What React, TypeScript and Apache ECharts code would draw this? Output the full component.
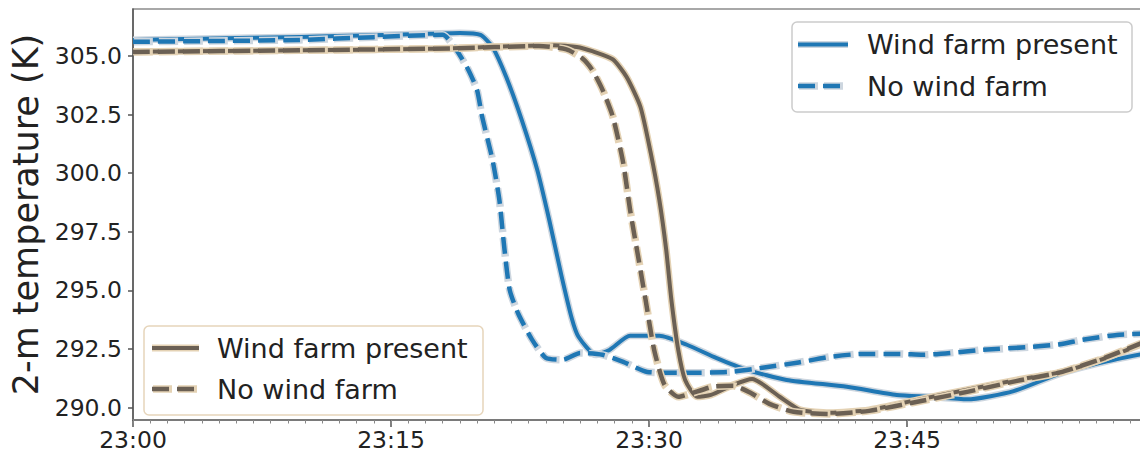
import React, { useEffect, useRef } from "react";
import * as echarts from "echarts";

// minutes after 23:00
const majorMinuteTicks = [0, 15, 30, 45];
const minorMinuteTicks = [
  0, 1, 2, 3, 4, 5, 6, 7, 8, 9, 10, 11, 12, 13, 14, 15, 16, 17, 18, 19, 20,
  21, 22, 23, 24, 25, 26, 27, 28, 29, 30, 31, 32, 33, 34, 35, 36, 37, 38, 39,
  40, 41, 42, 43, 44, 45, 46, 47, 48, 49, 50, 51, 52, 53, 54, 55, 56, 57, 58,
];
const temperatureTicks = [290, 292.5, 295, 297.5, 300, 302.5, 305];

const legendLabels = ["Wind farm present", "No wind farm"];

// Blue case: [minute, T (K)]
const blueWindFarm: [number, number][] = [
  [0, 305.68], [4, 305.73], [9.7, 305.81], [14, 305.88], [17.2, 305.94],
  [19.0, 305.98], [20.2, 305.9], [20.9, 305.38], [21.7, 304.1], [22.6, 302.27],
  [23.5, 300.14], [24.2, 298.0], [24.9, 295.66], [25.5, 293.83], [25.9, 293.02],
  [26.9, 292.25], [27.7, 292.46], [28.9, 293.06], [30.6, 293.06], [32.2, 292.68],
  [33.9, 292.12], [35.7, 291.61], [38.0, 291.18], [41.5, 290.89], [44.4, 290.54],
  [46.3, 290.46], [48.5, 290.35], [51.2, 290.7], [53.9, 291.45], [56.5, 291.95],
  [58.8, 292.3],
];
const blueNoWindFarm: [number, number][] = [
  [0, 305.6], [4, 305.63], [9.7, 305.68], [14, 305.8], [18.0, 305.9],
  [18.8, 305.26], [19.5, 304.4], [20.0, 303.55], [20.3, 302.4], [20.9, 300.57],
  [21.3, 298.86], [21.6, 296.73], [21.9, 295.02], [22.4, 294.0], [23.2, 292.9],
  [24.0, 292.12], [25.0, 292.04], [26.0, 292.33], [27.3, 292.25], [28.5, 291.95],
  [29.9, 291.52], [31.8, 291.48], [34.7, 291.52], [36.6, 291.7], [38.6, 291.91],
  [40.5, 292.16], [42.4, 292.29], [44.6, 292.29], [45.9, 292.25], [49.4, 292.46],
  [52.3, 292.59], [53.9, 292.7], [55.2, 292.89], [57.2, 293.1], [58.8, 293.15],
];

// Brown case
const brownWindFarm: [number, number][] = [
  [0, 305.18], [9.7, 305.24], [17.3, 305.3], [24.4, 305.45], [25.8, 305.38],
  [26.7, 305.2], [27.9, 304.85], [28.7, 304.1], [29.5, 302.83], [30.1, 300.86],
  [30.6, 298.86], [31.0, 296.73], [31.3, 294.6], [31.7, 292.46], [32.1, 291.18],
  [32.8, 290.46], [33.6, 290.54], [34.9, 290.97], [36.0, 291.22], [37.6, 290.46],
  [38.8, 289.9], [40.5, 289.78], [42.8, 289.9], [45.6, 290.33], [48.5, 290.76],
  [51.4, 291.18], [53.9, 291.5], [56.5, 292.1], [58.8, 292.75],
];
const brownNoWindFarm: [number, number][] = [
  [0, 305.17], [9.7, 305.24], [18.4, 305.32], [23.6, 305.42], [25.2, 305.28],
  [26.1, 304.91], [26.7, 304.4], [27.3, 303.55], [27.9, 302.4], [28.5, 300.44],
  [28.9, 298.43], [29.3, 296.73], [29.8, 294.6], [30.3, 292.46], [30.9, 290.97],
  [31.7, 290.46], [32.4, 290.59], [33.7, 290.89], [34.9, 290.93], [35.9, 290.63],
  [37.0, 290.16], [38.4, 289.82], [40.5, 289.73], [42.8, 289.86], [45.6, 290.25],
  [48.5, 290.67], [51.4, 291.14], [53.9, 291.5], [56.5, 292.12], [58.8, 292.8],
];

const BLUE = "#1f77b4";
const BLUE_HALO = "#cdd6df";
const BROWN = "#6b6054";
const BROWN_HALO = "#e4d2b4";
const FONT = "DejaVu Sans";

const GRID_LEFT = 133;
const GRID_TOP = 9;
const GRID_BOTTOM = 37;
const GRID_RIGHT = -3;
const PX_PER_MIN = 17.2;
const X_MAX = (1140 - GRID_LEFT - GRID_RIGHT) / PX_PER_MIN;
const Y_MAX = 307.0;
const Y_MIN = 289.47;

function lineSeries(
  name: string,
  data: [number, number][],
  color: string,
  halo: string,
  width: number,
  dashed: boolean
) {
  const base = {
    type: "line",
    name,
    data,
    showSymbol: false,
    symbol: "none",
    smooth: 0.2,
    silent: true,
    clip: true,
  };
  return [
    {
      ...base,
      lineStyle: {
        color: halo,
        width: width + 3,
        type: dashed ? [19, 6] : "solid",
        dashOffset: dashed ? -1 : 0,
        cap: "butt",
        join: "round",
      },
    },
    {
      ...base,
      lineStyle: {
        color,
        width,
        type: dashed ? [17, 8] : "solid",
        cap: "butt",
        join: "round",
      },
    },
  ];
}

function legendGraphic(
  x: number,
  y: number,
  w: number,
  h: number,
  border: string,
  color: string,
  halo: string,
  lineX1: number,
  lineX2: number,
  textX: number,
  rowY: number[],
  widths: number[]
) {
  const children: any[] = [
    {
      type: "rect",
      shape: { x, y, width: w, height: h, r: 5 },
      style: { fill: "rgba(255,255,255,0.9)", stroke: border, lineWidth: 1.5 },
    },
  ];
  legendLabels.forEach((label, i) => {
    const dashed = i === 1;
    children.push({
      type: "line",
      shape: { x1: lineX1, y1: rowY[i], x2: lineX2, y2: rowY[i] },
      style: {
        stroke: halo,
        lineWidth: widths[i] + 3,
        lineDash: dashed ? [19, 6] : null,
        lineDashOffset: dashed ? -1 : 0,
      },
    });
    children.push({
      type: "line",
      shape: { x1: lineX1, y1: rowY[i], x2: lineX2, y2: rowY[i] },
      style: {
        stroke: color,
        lineWidth: widths[i],
        lineDash: dashed ? [17, 8] : null,
      },
    });
    children.push({
      type: "text",
      x: textX,
      y: rowY[i],
      style: {
        text: label,
        fill: "#222",
        font: `27px "${FONT}"`,
        verticalAlign: "middle",
        align: "left",
      },
    });
  });
  return { type: "group", children };
}

export default function App() {
  const ref = useRef<HTMLDivElement>(null);
  useEffect(() => {
    if (!ref.current) return;
    const chart = echarts.init(ref.current, undefined, { renderer: "svg" });
    const pad = (v: number) => (v < 10 ? "0" + v : "" + v);
    chart.setOption({
      animation: false,
      backgroundColor: "#fff",
      textStyle: { fontFamily: FONT },
      grid: {
        left: GRID_LEFT,
        top: GRID_TOP,
        bottom: GRID_BOTTOM,
        right: GRID_RIGHT,
        containLabel: false,
        outerBoundsMode: "none",
        show: true,
        borderColor: "#8c8c8c",
        borderWidth: 1.5,
        backgroundColor: "#fff",
      },
      xAxis: [
        {
          type: "value",
          min: 0,
          max: X_MAX,
          axisLine: { show: true, lineStyle: { color: "#7a7a7a", width: 2 } },
          axisTick: {
            show: true,
            customValues: majorMinuteTicks,
            length: 7,
            lineStyle: { color: "#555", width: 1.5 },
          },
          axisLabel: {
            customValues: majorMinuteTicks,
            formatter: (v: number) => `23:${pad(Math.round(v))}`,
            fontSize: 23.5,
            color: "#222",
            fontFamily: FONT,
            margin: 8,
          },
          splitLine: { show: false },
        },
        {
          type: "value",
          min: 0,
          max: X_MAX,
          position: "bottom",
          axisLine: { show: false },
          axisTick: {
            show: true,
            customValues: minorMinuteTicks,
            length: 3.5,
            lineStyle: { color: "#888", width: 1 },
          },
          axisLabel: { show: false },
          splitLine: { show: false },
        },
      ],
      yAxis: {
        type: "value",
        min: Y_MIN,
        max: Y_MAX,
        name: "2-m temperature (K)",
        nameLocation: "middle",
        nameGap: 86,
        nameTextStyle: { fontSize: 35, color: "#222", fontFamily: FONT },
        axisLine: { show: true, lineStyle: { color: "#555", width: 1.5 } },
        axisTick: {
          show: true,
          customValues: temperatureTicks,
          length: 5,
          lineStyle: { color: "#555", width: 1.5 },
        },
        axisLabel: {
          customValues: temperatureTicks,
          formatter: (v: number) => v.toFixed(1),
          fontSize: 23.5,
          color: "#222",
          fontFamily: FONT,
          margin: 11,
        },
        splitLine: { show: false },
      },
      series: [
        ...lineSeries("Wind farm present (blue)", blueWindFarm, BLUE, BLUE_HALO, 4, false),
        ...lineSeries("No wind farm (blue)", blueNoWindFarm, BLUE, BLUE_HALO, 4.5, true),
        ...lineSeries("Wind farm present (brown)", brownWindFarm, BROWN, BROWN_HALO, 4, false),
        ...lineSeries("No wind farm (brown)", brownNoWindFarm, BROWN, BROWN_HALO, 4.5, true),
      ],
      graphic: [
        legendGraphic(792, 22, 340, 90, "#cccccc", BLUE, BLUE_HALO, 798, 848, 867, [44.5, 86], [4, 4.5]),
        legendGraphic(144, 326, 339, 89, "#e6d5bb", BROWN, BROWN_HALO, 152, 199, 217, [348, 389], [4, 4.5]),
      ],
    });
    return () => chart.dispose();
  }, []);
  return (
    <div
      ref={ref}
      style={{ position: "absolute", left: 0, top: 0, width: 1140, height: 457 }}
    />
  );
}
